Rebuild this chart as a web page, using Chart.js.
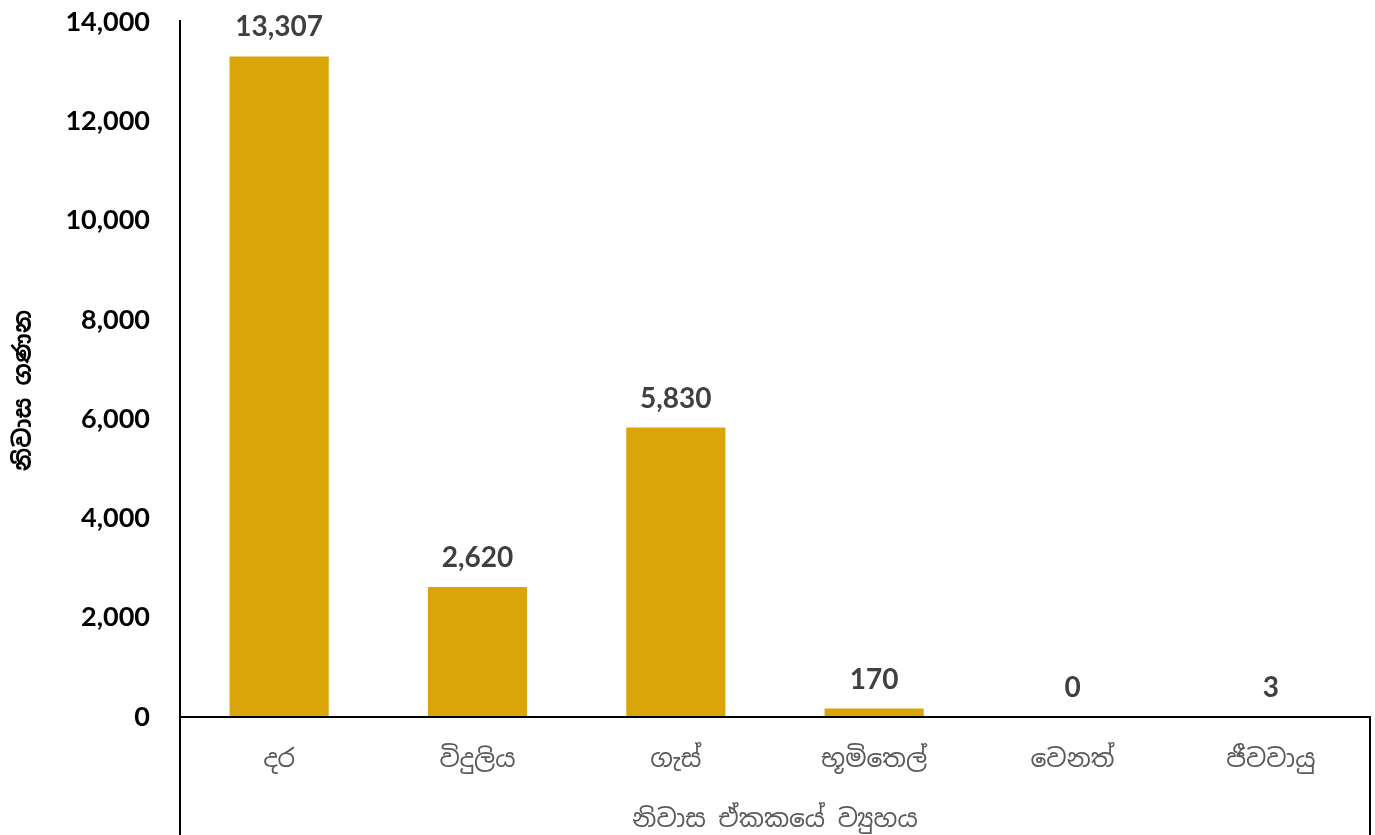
<!DOCTYPE html>
<html>
<head>
<meta charset="utf-8">
<script src="https://cdn.jsdelivr.net/npm/chart.js@4.4.0/dist/chart.umd.min.js"></script>
<style>
  html, body { margin: 0; padding: 0; background: #fff; }
  #wrap { width: 1375px; height: 835px; position: relative; }
</style>
</head>
<body>
<div id="wrap"><canvas id="chart"></canvas></div>
<script>
// Data
const categories = ['දර', 'විදුලිය', 'ගැස්', 'භූමිතෙල්', 'වෙනත්', 'ජීවවායු'];
const houseCounts = [13307, 2620, 5830, 170, 0, 3];
const yTicks = [0, 2000, 4000, 6000, 8000, 10000, 12000, 14000];

const xTitle = 'නිවාස ඒකකයේ ව්‍යුහය';
const yTitle = 'නිවාස ගණන';

const barColor = '#DAA508';
const numFont = 'Lato, "Open Sans", sans-serif';
const sinhalaFont = '"Noto Sans Sinhala", "Iskoola Pota", "Noto Sans", sans-serif';

// Value labels above the bars
const valueLabels = {
    id: 'valueLabels',
    afterDatasetsDraw(chart) {
        const ctx = chart.ctx;
        const meta = chart.getDatasetMeta(0);
        ctx.save();
        ctx.font = 'bold 28px ' + numFont;
        ctx.fillStyle = '#404040';
        ctx.textAlign = 'center';
        ctx.textBaseline = 'bottom';
        meta.data.forEach((bar, i) => {
            ctx.fillText(houseCounts[i].toLocaleString('en-US'), bar.x, bar.y - 15);
        });
        ctx.restore();
    }
};

// Axis frame lines (Excel style box under the category axis) + y title
const axisFrame = {
    id: 'axisFrame',
    afterDraw(chart) {
        const ctx = chart.ctx;
        const a = chart.chartArea;
        const h = chart.height;
        ctx.save();
        ctx.strokeStyle = '#000';
        ctx.lineWidth = 2;
        ctx.beginPath();
        ctx.moveTo(a.left, a.top - 2);
        ctx.lineTo(a.left, h);
        ctx.moveTo(a.left, a.bottom);
        ctx.lineTo(a.right, a.bottom);
        ctx.lineTo(a.right, h);
        ctx.stroke();

        // y axis title, a bit below the plot centre like the original
        ctx.translate(24, (a.top + a.bottom) / 2 + 21);
        ctx.rotate(-Math.PI / 2);
        ctx.font = 'bold 24px ' + sinhalaFont;
        ctx.fillStyle = '#000';
        ctx.textAlign = 'center';
        ctx.textBaseline = 'middle';
        ctx.fillText(yTitle, 0, 0);
        ctx.restore();
    }
};

const ctx = document.getElementById('chart');
new Chart(ctx, {
    type: 'bar',
    data: {
        labels: categories,
        datasets: [{
            data: houseCounts,
            backgroundColor: barColor,
            categoryPercentage: 0.5,
            barPercentage: 1.0
        }]
    },
    options: {
        responsive: true,
        maintainAspectRatio: false,
        animation: false,
        layout: { padding: { top: 22, right: 5, left: 0, bottom: 0 } },
        plugins: {
            legend: { display: false },
            tooltip: { enabled: false }
        },
        scales: {
            x: {
                grid: { display: false, drawTicks: false },
                border: { display: false },
                ticks: {
                    color: '#595959',
                    font: { family: sinhalaFont, size: 25 },
                    padding: 28
                },
                title: {
                    display: true,
                    text: xTitle,
                    color: '#595959',
                    font: { family: sinhalaFont, size: 25 },
                    padding: { top: 14, bottom: 0 }
                },
                afterFit(scale) { scale.height = 118; }
            },
            y: {
                min: 0,
                max: 14000,
                afterBuildTicks(scale) {
                    scale.ticks = yTicks.map(v => ({ value: v }));
                },
                grid: { display: false, drawTicks: false },
                border: { display: false },
                ticks: {
                    color: '#000',
                    font: { family: numFont, size: 27, weight: 'bold' },
                    padding: 30,
                    callback: v => v.toLocaleString('en-US')
                },
                afterFit(scale) {
                    scale.width = 180;
                    scale.paddingTop = 0;
                    scale.paddingBottom = 0;
                }
            }
        }
    },
    plugins: [valueLabels, axisFrame]
});
</script>
</body>
</html>
